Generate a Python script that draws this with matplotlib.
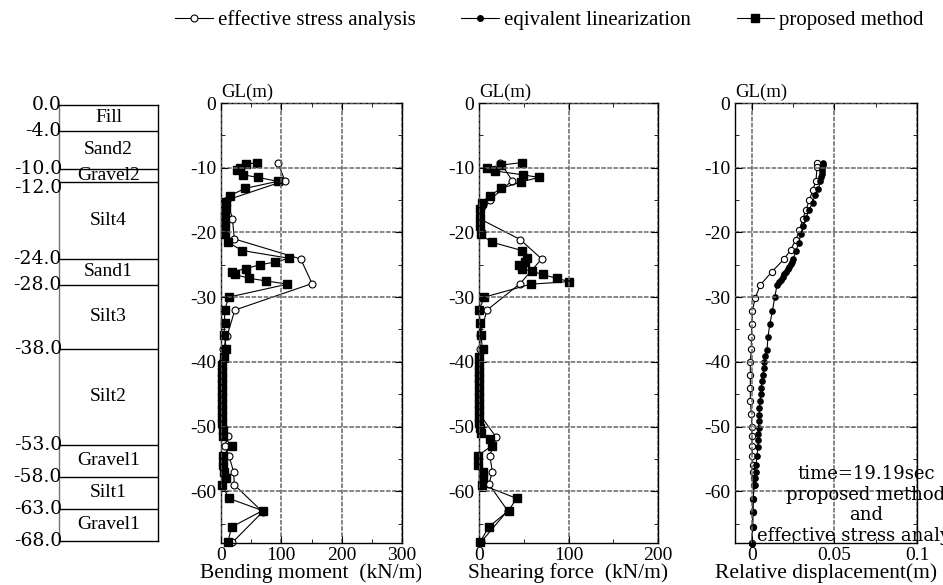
import numpy as np
import matplotlib
matplotlib.use('Agg')
import matplotlib.pyplot as plt
from matplotlib.lines import Line2D
from matplotlib.ticker import MultipleLocator
from matplotlib.transforms import Bbox, TransformedBbox

plt.rcParams['font.family'] = ['Liberation Serif', 'DejaVu Serif']
plt.rcParams['axes.unicode_minus'] = False

# soil column
layer_bounds = [0.0, -4.0, -10.0, -12.0, -24.0, -28.0, -38.0, -53.0, -58.0, -63.0, -68.0]
layer_names = ['Fill', 'Sand2', 'Gravel2', 'Silt4', 'Sand1', 'Silt3', 'Silt2', 'Gravel1', 'Silt1', 'Gravel1']

# bending moment (kN/m)
bm_esa_depth = [-9.2, -12.0, -15.0, -17.9, -21.0, -24.1, -27.9, -32.0, -36.0, -38, -40, -42, -44, -46, -48, -50,
                -51.5, -53, -54.5, -57, -59, -63.2, -67.9]
bm_esa = [94, 106, 10, 19, 22, 132, 151, 23, 10, 4, 2, 1, 1, 1, 1, 2, 12, 6, 13, 21, 22, 69, 19]
bm_pm_depth = [-9.2, -9.5, -10.0, -10.4, -11.1, -11.5, -12.1, -13.2, -14.3, -15.3, -16.2, -17.5, -18.9, -20.3, -21.5,
               -22.8, -24.0, -24.6, -25.0, -25.6, -26.1, -26.5, -27.1, -27.5, -28.0, -30.0, -32.0, -34.0, -35.9,
               -38.0, -39.3, -40.5, -41.5, -42.5, -43.5, -44.5, -45.5, -46.5, -47.5, -48.5, -49.5, -50.5, -51.5,
               -53.0, -54.5, -56.0, -57.0, -58.0, -59.0, -61.1, -63.0, -65.5, -67.9]
bm_pm = [60, 41, 31, 27, 37, 61, 94, 40, 15, 9, 9, 7, 7, 7, 11, 35, 113, 89, 64, 41, 18, 23, 47, 75, 110, 13, 6, 6,
         5, 9, 5, 2, 2, 2, 2, 2, 2, 2, 2, 2, 2, 3, 4, 18, 3, 3, 5, 9, 2, 13, 69, 18, 11]

# shearing force (kN/m)
sf_esa_depth = [-9.2, -12.0, -15.0, -17.9, -21.1, -24.1, -27.9, -32.0, -35.9, -38, -40, -42, -44, -46, -48,
                -51.6, -54.5, -57.0, -58.9, -63.0, -67.9]
sf_esa = [24, 37, 12, 1, 46, 70, 46, 9, 1, 1, 0, 0, 0, 0, 0, 19, 12, 15, 11, 32, 2]
sf_pm_depth = [-9.2, -9.6, -10.0, -10.5, -11.1, -11.5, -12.2, -13.2, -14.3, -15.4, -16.4, -17.7, -19.0, -20.3,
               -21.5, -22.8, -24.0, -24.6, -25.0, -25.6, -26.0, -26.5, -27.1, -27.6, -28.0, -30.0, -32.0, -34.0,
               -35.9, -38.0, -39.3, -40.5, -41.5, -42.5, -43.5, -44.5, -45.5, -46.5, -47.5, -48.5, -49.5, -50.3,
               -51.0, -52.0, -53.0, -54.5, -56.0, -57.0, -58.0, -59.0, -61.1, -63.0, -65.5, -67.9]
sf_pm = [48, 25, 9, 18, 49, 67, 47, 25, 12, 3, 1, 1, 1, 2, 14, 48, 54, 51, 45, 48, 59, 71, 87, 101, 58, 6, 0, 1,
         2, 4, 0, 0, 0, 0, 0, 0, 0, 0, 0, 0, 0, 1, 2, 12, 14, -1, -1, 4, 4, 3, 42, 33, 11, 1]

# relative displacement (m)
rd_esa_depth = [-9.2, -9.9, -12.0, -13.5, -15.0, -16.5, -18.0, -19.7, -21.1, -22.7, -24.1, -26.1, -28.1, -30.1,
                -32.1, -34.2, -36.1, -38.0, -40.0, -42.0, -44.0, -46.0, -48.1, -50.1, -51.5, -53.0, -54.5, -56.0,
                -57.0, -58.0, -59.0, -61.2, -63.2, -65.6, -68.0]
rd_esa = [0.0392, 0.0394, 0.0388, 0.0368, 0.0348, 0.0327, 0.0307, 0.0287, 0.0266, 0.0234, 0.0195, 0.0120, 0.0051,
          0.0020, 0.0002, 0.0, -0.0004, -0.0004, -0.0010, -0.0010, -0.0010, -0.0010, -0.0004, 0.0, 0.0, 0.0,
          0.0002, 0.0006, 0.0008, 0.0010, 0.0010, 0.0008, 0.0006, 0.0004, 0.0]
rd_el_depth = [-9.2, -9.6, -10.0, -10.5, -11.0, -11.5, -12.0, -13.3, -14.2, -15.4, -16.5, -17.8, -19.0, -20.2,
               -21.6, -22.8, -24.1, -24.5, -24.9, -25.3, -25.7, -26.1, -26.5, -26.9, -27.3, -27.7, -28.1, -30.0,
               -32.1, -34.2, -36.1, -38.1, -39.1, -40.0, -41.0, -42.0, -43.0, -44.0, -45.0, -46.0, -47.2, -48.2,
               -49.1, -50.2, -51.1, -52.1, -53.2, -54.6, -56.0, -57.0, -58.0, -59.0, -61.2, -63.2, -65.6, -68.1]
rd_el = [0.0429, 0.0429, 0.0427, 0.0425, 0.0423, 0.0419, 0.0413, 0.0403, 0.0382, 0.0368, 0.0346, 0.0327, 0.0311,
         0.0295, 0.0285, 0.0266, 0.0250, 0.0243, 0.0235, 0.0226, 0.0216, 0.0205, 0.0195, 0.0185, 0.0175, 0.0165,
         0.0152, 0.0138, 0.0124, 0.0108, 0.0097, 0.0091, 0.0081, 0.0075, 0.0071, 0.0065, 0.0060, 0.0056, 0.0052,
         0.0050, 0.0044, 0.0044, 0.0040, 0.0040, 0.0036, 0.0036, 0.0036, 0.0030, 0.0024, 0.0024, 0.0016, 0.0016,
         0.0006, 0.0004, 0.0004, 0.0]

W, H = 943, 585
fig = plt.figure(figsize=(W / 100, H / 100), dpi=100)


def px_axes(x0, y0, x1, y1):
    # pixel box (top-left origin) -> figure axes
    return fig.add_axes([x0 / W, 1 - y1 / H, (x1 - x0) / W, (y1 - y0) / H])


# --- soil column ---
ax0 = px_axes(59, 105, 158, 541)
ax0.set_xlim(0, 1)
ax0.set_ylim(-68, 0)
ax0.set_xticks([])
ax0.set_yticks([])
for s in ax0.spines.values():
    s.set_linewidth(1.0)
ax0.spines['left'].set_color('0.45')
for b in layer_bounds[1:-1]:
    ax0.axhline(b, color='black', lw=1.0)
for i, b in enumerate(layer_bounds):
    off = -0.9 if b == -12.0 else 0  # nudge so -10.0 / -12.0 don't collide
    ax0.text(0.03, b + off, '%.1f' % b, transform=ax0.get_yaxis_transform(), ha='right', va='center',
             fontsize=13.5, family='DejaVu Serif', clip_on=False)
for i, name in enumerate(layer_names):
    mid = (layer_bounds[i] + layer_bounds[i + 1]) / 2
    ax0.text(0.5, mid, name, ha='center', va='center', fontsize=14)

grid_kw = dict(color='0.4', linestyle=(0, (3, 1)), linewidth=1.1)
esa_kw = dict(color='black', lw=0.8, marker='o', ms=5, mfc='white', mec='black', mew=0.8, clip_on=False)
pm_kw = dict(color='black', lw=0.8, marker='s', ms=6, mfc='black', mec='black', clip_on=False)
el_kw = dict(color='black', lw=0.8, marker='o', ms=3.8, mfc='black', mec='black', clip_on=False)


def setup_panel(ax, xlim, xticks, xminor, xticklabels, xlabel):
    ax.set_xlim(*xlim)
    ax.set_ylim(-68, 0)
    ax.set_xticks(xticks)
    ax.set_xticklabels(xticklabels)
    ax.set_yticks(range(0, -61, -10))
    ax.xaxis.set_minor_locator(MultipleLocator(xminor))
    ax.yaxis.set_minor_locator(MultipleLocator(5))
    ax.tick_params(which='both', direction='in', top=True, right=True, labelsize=14)
    ax.tick_params(which='major', length=5)
    ax.tick_params(which='minor', length=3)
    ax.tick_params(axis='x', pad=3)
    ax.grid(True, which='major', **grid_kw)
    ax.set_axisbelow(False)
    for s in ax.spines.values():
        s.set_linewidth(1.0)
    ax.set_xlabel(xlabel, fontsize=15.5, labelpad=-1)
    ax.text(0, 1.004, 'GL(m)', transform=ax.transAxes, ha='left', va='bottom', fontsize=13.5)


ax1 = px_axes(221, 103, 402, 543)
ax1.plot(bm_esa, bm_esa_depth, **esa_kw)
ax1.plot(bm_pm, bm_pm_depth, **pm_kw)
setup_panel(ax1, (0, 300), [0, 100, 200, 300], 50, ['0', '100', '200', '300'], 'Bending moment  (kN/m)')
# label is cut off on the right in the original
lab = ax1.xaxis.label
lab.set_clip_box(TransformedBbox(Bbox([[0, 0], [421 / W, 1]]), fig.transFigure))
lab.set_clip_on(True)

ax2 = px_axes(479, 103, 658, 543)
ax2.plot(sf_esa, sf_esa_depth, **esa_kw)
ax2.plot(sf_pm, sf_pm_depth, **pm_kw)
setup_panel(ax2, (0, 200), [0, 100, 200], 50, ['0', '100', '200'], 'Shearing force  (kN/m)')

ax3 = px_axes(735, 103, 917, 543)
ax3.plot(rd_esa, rd_esa_depth, **dict(esa_kw, ms=4.5))
ax3.plot(rd_el, rd_el_depth, **el_kw)
setup_panel(ax3, (-0.0103, 0.1), [0, 0.05, 0.1], 0.025, ['0', '0.05', '0.1'], 'Relative displacement(m)')

# annotation runs off the right edge, as in the original
fig.text(866 / W, 1 - 505 / H, 'time=19.19sec\nproposed method\nand\neffective stress analysis',
         ha='center', va='center', multialignment='center', fontsize=13, family='DejaVu Serif')

handles = [Line2D([], [], **esa_kw),
           Line2D([], [], **dict(el_kw, ms=4)),
           Line2D([], [], **pm_kw)]
fig.legend(handles, ['effective stress analysis', 'eqivalent linearization', 'proposed method'],
           loc='center left', bbox_to_anchor=(175 / W, 1 - 20 / H), ncol=3, frameon=False,
           borderpad=0, borderaxespad=0, fontsize=15, handlelength=1.8, handletextpad=0.25,
           columnspacing=2.2)

fig.savefig('out.png', dpi=100)
